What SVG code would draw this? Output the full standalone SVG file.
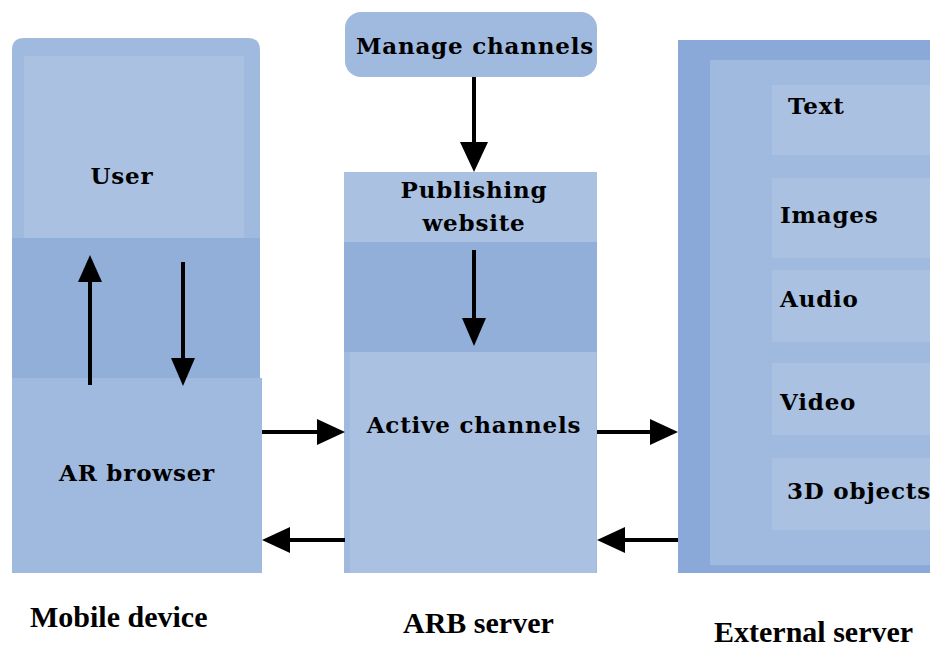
<svg xmlns="http://www.w3.org/2000/svg" width="930" height="652" viewBox="0 0 930 652">
<style>
.lbl{font-family:"DejaVu Serif","Liberation Serif",serif;font-weight:bold;font-size:23px;letter-spacing:0.8px;fill:#000}
.cap{font-family:"Liberation Serif","DejaVu Serif",serif;font-weight:bold;font-size:30px;fill:#000}
.panel{fill:#a0b9de}
.inner{fill:#aac1e2}
.band{fill:#92afd9}
.edge{fill:#8aa9d9}
.conn{stroke:#000;stroke-width:4;fill:none}
</style>
<rect width="930" height="652" fill="#fff"/>
<g id="mobile-device">
<path class="panel" d="M12 50 Q12 38 24 38 L248 38 Q260 38 260 50 L260 573 L12 573 Z"/>
<rect class="band" x="12" y="238" width="248" height="140"/>
<rect class="inner" x="24" y="56" width="220" height="182"/>
<rect class="panel" x="12" y="378" width="250" height="195"/>
<text class="lbl" x="122" y="184" text-anchor="middle">User</text>
<text class="lbl" x="137" y="481" text-anchor="middle">AR browser</text>
</g>
<g id="manage-channels">
<rect class="panel" x="345" y="12" width="252" height="65" rx="16"/>
<text class="lbl" x="475" y="54" text-anchor="middle">Manage channels</text>
</g>
<g id="arb-server">
<rect class="panel" x="344" y="172" width="253" height="401"/>
<rect class="inner" x="344" y="172" width="253" height="70"/>
<rect class="band" x="344" y="242" width="253" height="110"/>
<rect class="inner" x="350" y="352" width="246" height="221"/>
<text class="lbl" x="474" y="198" text-anchor="middle">Publishing</text>
<text class="lbl" x="474" y="231" text-anchor="middle">website</text>
<text class="lbl" x="474" y="433" text-anchor="middle">Active channels</text>
</g>
<g id="external-server">
<rect class="edge" x="678" y="40" width="252" height="533"/>
<rect class="panel" x="710" y="60" width="220" height="505"/>
<rect class="inner" x="772" y="85" width="158" height="70"/>
<rect class="inner" x="772" y="178" width="158" height="80"/>
<rect class="inner" x="772" y="270" width="158" height="72"/>
<rect class="inner" x="772" y="363" width="158" height="72"/>
<rect class="inner" x="772" y="458" width="158" height="72"/>
<text class="lbl" x="788" y="114">Text</text>
<text class="lbl" x="780" y="223">Images</text>
<text class="lbl" x="780" y="307">Audio</text>
<text class="lbl" x="780" y="410">Video</text>
<text class="lbl" x="787" y="499">3D objects</text>
</g>
<g id="captions">
<text class="cap" x="30" y="627">Mobile device</text>
<text class="cap" x="403" y="633">ARB server</text>
<text class="cap" x="714" y="642">External server</text>
</g>
<g id="connectors">
<line class="conn" x1="90" y1="385" x2="90" y2="280"/>
<polygon points="90,255 78,282 102,282"/>
<line class="conn" x1="183" y1="262" x2="183" y2="362"/>
<polygon points="183,386 171,358 195,358"/>
<line class="conn" x1="474" y1="77" x2="474" y2="146"/>
<polygon points="474,172 460,142 488,142"/>
<line class="conn" x1="474" y1="250" x2="474" y2="320"/>
<polygon points="474,346 462,318 486,318"/>
<line class="conn" x1="262" y1="432" x2="320" y2="432"/>
<polygon points="345,432 317,419 317,445"/>
<line class="conn" x1="345" y1="540" x2="287" y2="540"/>
<polygon points="262,540 290,527 290,553"/>
<line class="conn" x1="597" y1="432" x2="653" y2="432"/>
<polygon points="678,432 650,419 650,445"/>
<line class="conn" x1="678" y1="540" x2="622" y2="540"/>
<polygon points="597,540 625,527 625,553"/>
</g>
</svg>
